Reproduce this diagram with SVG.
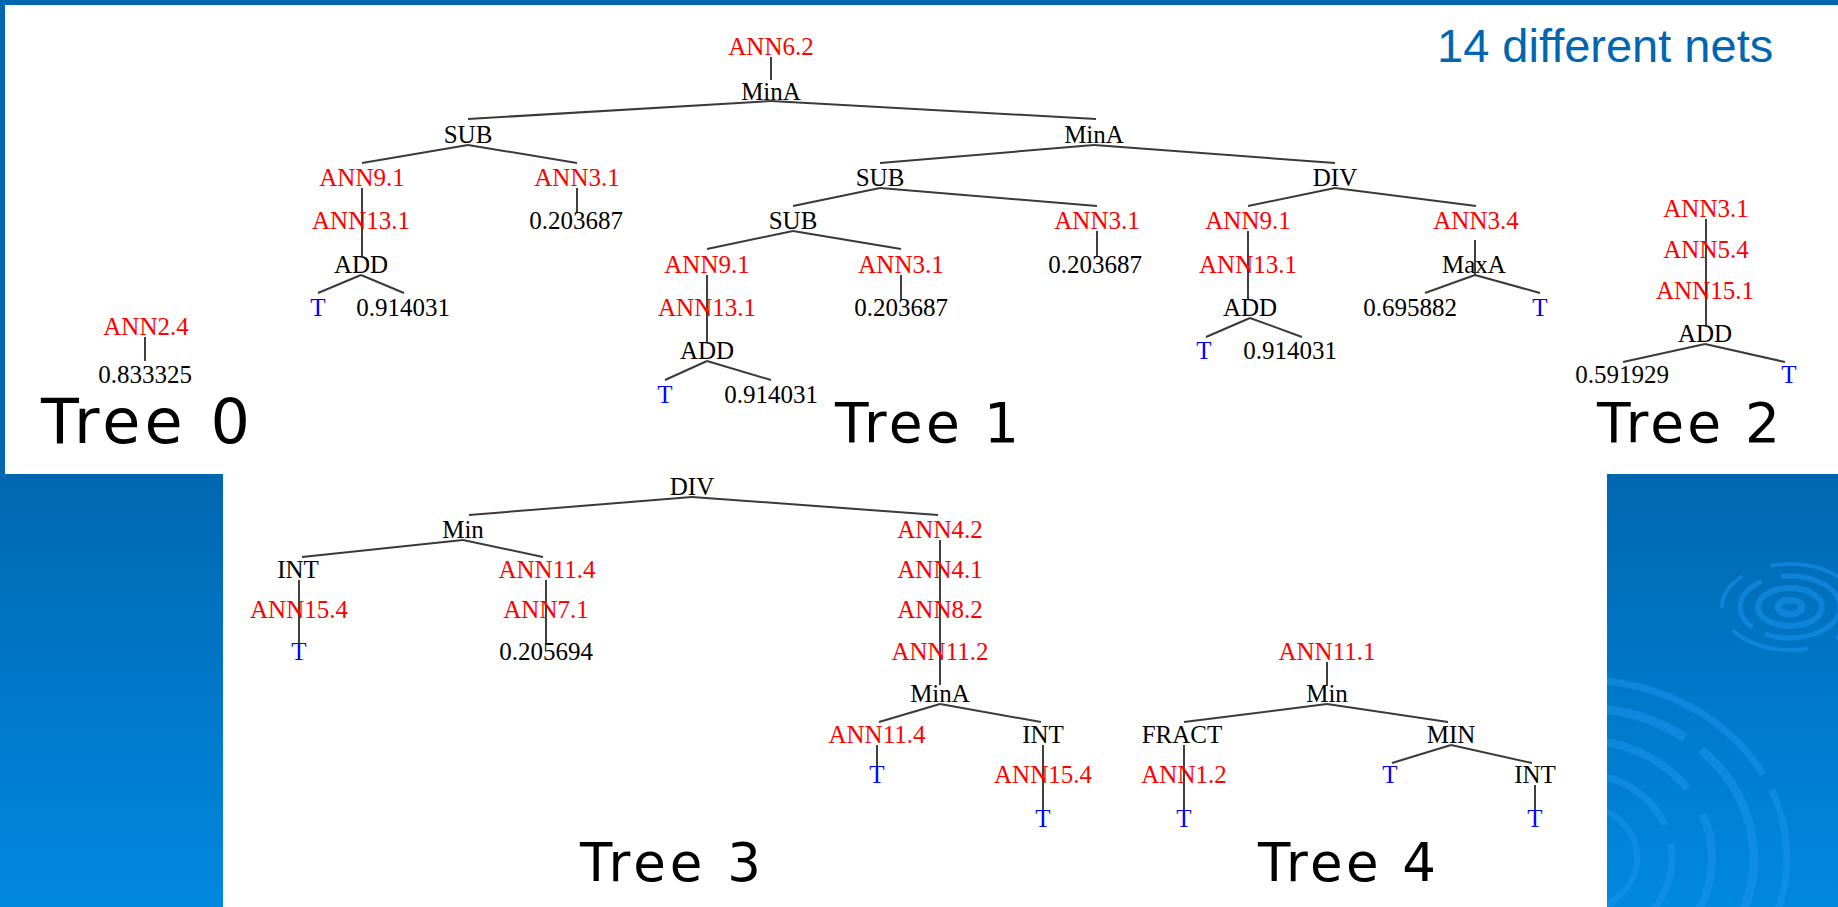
<svg xmlns="http://www.w3.org/2000/svg" width="1838" height="907" viewBox="0 0 1838 907">
  <defs>
    <linearGradient id="slideBg" x1="0" y1="0" x2="0" y2="907" gradientUnits="userSpaceOnUse">
      <stop offset="0" stop-color="#0066b0"/>
      <stop offset="0.52" stop-color="#0067b1"/>
      <stop offset="1" stop-color="#0089e0"/>
    </linearGradient>
    <style>
      .n { font-family: "Liberation Serif", "Times New Roman", serif; font-size: 25px; text-anchor: middle; }
      .r { fill: #ff0000; }
      .k { fill: #000000; }
      .b { fill: #0000ff; }
      .title { font-family: "DejaVu Sans", Verdana, sans-serif; fill: #000; }
      .edge { stroke: #3a3a3a; stroke-width: 2; fill: none; }
      .chain { stroke: #000; stroke-width: 1.5; fill: none; }
      .ripple { fill: none; stroke: #1a94ec; stroke-opacity: 0.55; }
    </style>
  </defs>

  <!-- slide background with ripple ornament -->
  <rect x="0" y="0" width="1838" height="907" fill="url(#slideBg)"/>
  <g id="ripples">
    <ellipse class="ripple" cx="1790" cy="607" rx="12" ry="7" stroke-width="7"/>
    <ellipse class="ripple" cx="1790" cy="607" rx="32" ry="19" stroke-width="6"/>
    <ellipse class="ripple" cx="1790" cy="607" rx="50" ry="31" stroke-width="5" stroke-dasharray="90 14 60 20"/>
    <ellipse class="ripple" cx="1790" cy="607" rx="68" ry="43" stroke-width="4" stroke-dasharray="40 30 80 25"/>
    <ellipse class="ripple" cx="1582" cy="858" rx="205" ry="178" stroke-width="7" stroke-dasharray="260 18 120 30"/>
    <ellipse class="ripple" cx="1582" cy="858" rx="172" ry="150" stroke-width="9" stroke-dasharray="180 24 220 20"/>
    <ellipse class="ripple" cx="1582" cy="858" rx="130" ry="118" stroke-width="8" stroke-dasharray="140 30 90 22"/>
    <ellipse class="ripple" cx="1582" cy="858" rx="90" ry="84" stroke-width="7" stroke-dasharray="100 20 60 26"/>
    <ellipse class="ripple" cx="1582" cy="858" rx="55" ry="52" stroke-width="6"/>
  </g>

  <!-- white picture panels -->
  <rect x="5" y="5" width="1833" height="469" fill="#ffffff"/>
  <rect x="223" y="474" width="1384" height="433" fill="#ffffff"/>

  <g id="heading">
    <text x="1437" y="62" font-family="'Liberation Sans', Arial, sans-serif" font-size="47" fill="#0066b0">14 different nets</text>
  </g>

  <!-- tree edges -->
  <g id="connectors">
    <!-- Tree 0 -->
    <line class="chain" x1="145" y1="337" x2="145" y2="361"/>
    <!-- Tree 1 -->
    <line class="chain" x1="771" y1="57" x2="771" y2="80"/>
    <line class="edge" x1="771" y1="101" x2="468" y2="119"/>
    <line class="edge" x1="771" y1="101" x2="1096" y2="119"/>
    <line class="edge" x1="468" y1="145" x2="362" y2="163"/>
    <line class="edge" x1="468" y1="145" x2="577" y2="163"/>
    <line class="chain" x1="362" y1="188" x2="362" y2="256"/>
    <line class="edge" x1="361" y1="275" x2="318" y2="293"/>
    <line class="edge" x1="361" y1="275" x2="404" y2="293"/>
    <line class="chain" x1="577" y1="188" x2="577" y2="212"/>
    <line class="edge" x1="1094" y1="145" x2="880" y2="163"/>
    <line class="edge" x1="1094" y1="145" x2="1335" y2="163"/>
    <line class="edge" x1="880" y1="188" x2="793" y2="206"/>
    <line class="edge" x1="880" y1="188" x2="1097" y2="206"/>
    <line class="chain" x1="1097" y1="231" x2="1097" y2="256"/>
    <line class="edge" x1="793" y1="231" x2="707" y2="249"/>
    <line class="edge" x1="793" y1="231" x2="901" y2="249"/>
    <line class="chain" x1="707" y1="275" x2="707" y2="342"/>
    <line class="chain" x1="901" y1="275" x2="901" y2="299"/>
    <line class="edge" x1="707" y1="361" x2="665" y2="380"/>
    <line class="edge" x1="707" y1="361" x2="771" y2="380"/>
    <line class="edge" x1="1335" y1="188" x2="1248" y2="206"/>
    <line class="edge" x1="1335" y1="188" x2="1476" y2="206"/>
    <line class="chain" x1="1248" y1="231" x2="1248" y2="299"/>
    <line class="edge" x1="1250" y1="318" x2="1206" y2="337"/>
    <line class="edge" x1="1250" y1="318" x2="1302" y2="337"/>
    <line class="chain" x1="1475" y1="240" x2="1475" y2="275"/>
    <line class="edge" x1="1475" y1="275" x2="1425" y2="293"/>
    <line class="edge" x1="1475" y1="275" x2="1540" y2="293"/>
    <!-- Tree 2 -->
    <line class="chain" x1="1706" y1="219" x2="1706" y2="325"/>
    <line class="edge" x1="1705" y1="344" x2="1623" y2="362"/>
    <line class="edge" x1="1705" y1="344" x2="1785" y2="362"/>
    <!-- Tree 3 -->
    <line class="edge" x1="692" y1="497" x2="469" y2="515"/>
    <line class="edge" x1="692" y1="497" x2="938" y2="515"/>
    <line class="edge" x1="463" y1="540" x2="302" y2="557"/>
    <line class="edge" x1="463" y1="540" x2="543" y2="557"/>
    <line class="chain" x1="299" y1="580" x2="299" y2="643"/>
    <line class="chain" x1="546" y1="580" x2="546" y2="643"/>
    <line class="chain" x1="940" y1="540" x2="940" y2="685"/>
    <line class="edge" x1="940" y1="704" x2="879" y2="722"/>
    <line class="edge" x1="940" y1="704" x2="1041" y2="722"/>
    <line class="chain" x1="877" y1="745" x2="877" y2="766"/>
    <line class="chain" x1="1043" y1="745" x2="1043" y2="810"/>
    <!-- Tree 4 -->
    <line class="chain" x1="1327" y1="662" x2="1327" y2="685"/>
    <line class="edge" x1="1327" y1="704" x2="1184" y2="722"/>
    <line class="edge" x1="1327" y1="704" x2="1448" y2="722"/>
    <line class="chain" x1="1184" y1="745" x2="1184" y2="810"/>
    <line class="edge" x1="1451" y1="745" x2="1392" y2="763"/>
    <line class="edge" x1="1451" y1="745" x2="1532" y2="763"/>
    <line class="chain" x1="1535" y1="785" x2="1535" y2="810"/>
  </g>

  <!-- Tree 0 -->
  <g id="t0-ann2-4"><text class="n r" x="146" y="335" font-size="27">ANN2.4</text></g>
  <g id="t0-const"><text class="n k" x="145" y="383" font-size="27">0.833325</text></g>
  <g id="t0-label"><text class="title" x="41" y="443" font-size="62" textLength="209">Tree 0</text></g>

  <!-- Tree 1 -->
  <g id="t1-ann6-2"><text class="n r" x="771" y="55">ANN6.2</text></g>
  <g id="t1-mina"><text class="n k" x="771" y="100">MinA</text></g>
  <g id="t1-sub-a"><text class="n k" x="468" y="143">SUB</text></g>
  <g id="t1-mina-b"><text class="n k" x="1094" y="143">MinA</text></g>
  <g id="t1-ann9-1-a"><text class="n r" x="362" y="186">ANN9.1</text></g>
  <g id="t1-ann3-1-a"><text class="n r" x="577" y="186">ANN3.1</text></g>
  <g id="t1-ann13-1-a"><text class="n r" x="361" y="229">ANN13.1</text></g>
  <g id="t1-const-a"><text class="n k" x="576" y="229">0.203687</text></g>
  <g id="t1-add-a"><text class="n k" x="361" y="273">ADD</text></g>
  <g id="t1-t-a"><text class="n b" x="318" y="316">T</text></g>
  <g id="t1-val-a"><text class="n k" x="403" y="316">0.914031</text></g>
  <g id="t1-sub-b"><text class="n k" x="880" y="186">SUB</text></g>
  <g id="t1-div"><text class="n k" x="1335" y="186">DIV</text></g>
  <g id="t1-sub-c"><text class="n k" x="793" y="229">SUB</text></g>
  <g id="t1-ann3-1-b"><text class="n r" x="1097" y="229">ANN3.1</text></g>
  <g id="t1-ann9-1-c"><text class="n r" x="1248" y="229">ANN9.1</text></g>
  <g id="t1-ann3-4"><text class="n r" x="1476" y="229">ANN3.4</text></g>
  <g id="t1-ann9-1-b"><text class="n r" x="707" y="273">ANN9.1</text></g>
  <g id="t1-ann3-1-c"><text class="n r" x="901" y="273">ANN3.1</text></g>
  <g id="t1-const-b"><text class="n k" x="1095" y="273">0.203687</text></g>
  <g id="t1-ann13-1-c"><text class="n r" x="1248" y="273">ANN13.1</text></g>
  <g id="t1-maxa"><text class="n k" x="1474" y="273">MaxA</text></g>
  <g id="t1-ann13-1-b"><text class="n r" x="707" y="316">ANN13.1</text></g>
  <g id="t1-const-c"><text class="n k" x="901" y="316">0.203687</text></g>
  <g id="t1-add-c"><text class="n k" x="1250" y="316">ADD</text></g>
  <g id="t1-val-d"><text class="n k" x="1410" y="316">0.695882</text></g>
  <g id="t1-t-d"><text class="n b" x="1540" y="316">T</text></g>
  <g id="t1-add-b"><text class="n k" x="707" y="359">ADD</text></g>
  <g id="t1-t-c"><text class="n b" x="1204" y="359">T</text></g>
  <g id="t1-val-c"><text class="n k" x="1290" y="359">0.914031</text></g>
  <g id="t1-t-b"><text class="n b" x="665" y="403">T</text></g>
  <g id="t1-val-b"><text class="n k" x="771" y="403">0.914031</text></g>
  <g id="t1-label"><text class="title" x="835" y="442" font-size="55" textLength="184">Tree 1</text></g>

  <!-- Tree 2 -->
  <g id="t2-ann3-1"><text class="n r" x="1706" y="217">ANN3.1</text></g>
  <g id="t2-ann5-4"><text class="n r" x="1706" y="258">ANN5.4</text></g>
  <g id="t2-ann15-1"><text class="n r" x="1705" y="299">ANN15.1</text></g>
  <g id="t2-add"><text class="n k" x="1705" y="342">ADD</text></g>
  <g id="t2-const"><text class="n k" x="1622" y="383">0.591929</text></g>
  <g id="t2-t"><text class="n b" x="1789" y="383">T</text></g>
  <g id="t2-label"><text class="title" x="1597" y="442" font-size="55" textLength="183">Tree 2</text></g>

  <!-- Tree 3 -->
  <g id="t3-div"><text class="n k" x="692" y="495">DIV</text></g>
  <g id="t3-min"><text class="n k" x="463" y="538">Min</text></g>
  <g id="t3-ann4-2"><text class="n r" x="940" y="538">ANN4.2</text></g>
  <g id="t3-int-a"><text class="n k" x="298" y="578">INT</text></g>
  <g id="t3-ann11-4-a"><text class="n r" x="547" y="578">ANN11.4</text></g>
  <g id="t3-ann4-1"><text class="n r" x="940" y="578">ANN4.1</text></g>
  <g id="t3-ann15-4-a"><text class="n r" x="299" y="618">ANN15.4</text></g>
  <g id="t3-ann7-1"><text class="n r" x="546" y="618">ANN7.1</text></g>
  <g id="t3-ann8-2"><text class="n r" x="940" y="618">ANN8.2</text></g>
  <g id="t3-t-a"><text class="n b" x="299" y="660">T</text></g>
  <g id="t3-const"><text class="n k" x="546" y="660">0.205694</text></g>
  <g id="t3-ann11-2"><text class="n r" x="940" y="660">ANN11.2</text></g>
  <g id="t3-mina"><text class="n k" x="940" y="702">MinA</text></g>
  <g id="t3-ann11-4-b"><text class="n r" x="877" y="743">ANN11.4</text></g>
  <g id="t3-int-b"><text class="n k" x="1043" y="743">INT</text></g>
  <g id="t3-t-b"><text class="n b" x="877" y="783">T</text></g>
  <g id="t3-ann15-4-b"><text class="n r" x="1043" y="783">ANN15.4</text></g>
  <g id="t3-t-c"><text class="n b" x="1043" y="827">T</text></g>
  <g id="t3-label"><text class="title" x="580" y="881" font-size="53" textLength="181">Tree 3</text></g>

  <!-- Tree 4 -->
  <g id="t4-ann11-1"><text class="n r" x="1327" y="660">ANN11.1</text></g>
  <g id="t4-min"><text class="n k" x="1327" y="702">Min</text></g>
  <g id="t4-fract"><text class="n k" x="1182" y="743">FRACT</text></g>
  <g id="t4-min-upper"><text class="n k" x="1451" y="743">MIN</text></g>
  <g id="t4-ann1-2"><text class="n r" x="1184" y="783">ANN1.2</text></g>
  <g id="t4-t-a"><text class="n b" x="1390" y="783">T</text></g>
  <g id="t4-int"><text class="n k" x="1535" y="783">INT</text></g>
  <g id="t4-t-b"><text class="n b" x="1184" y="827">T</text></g>
  <g id="t4-t-c"><text class="n b" x="1535" y="827">T</text></g>
  <g id="t4-label"><text class="title" x="1258" y="881" font-size="53" textLength="178">Tree 4</text></g>
</svg>
